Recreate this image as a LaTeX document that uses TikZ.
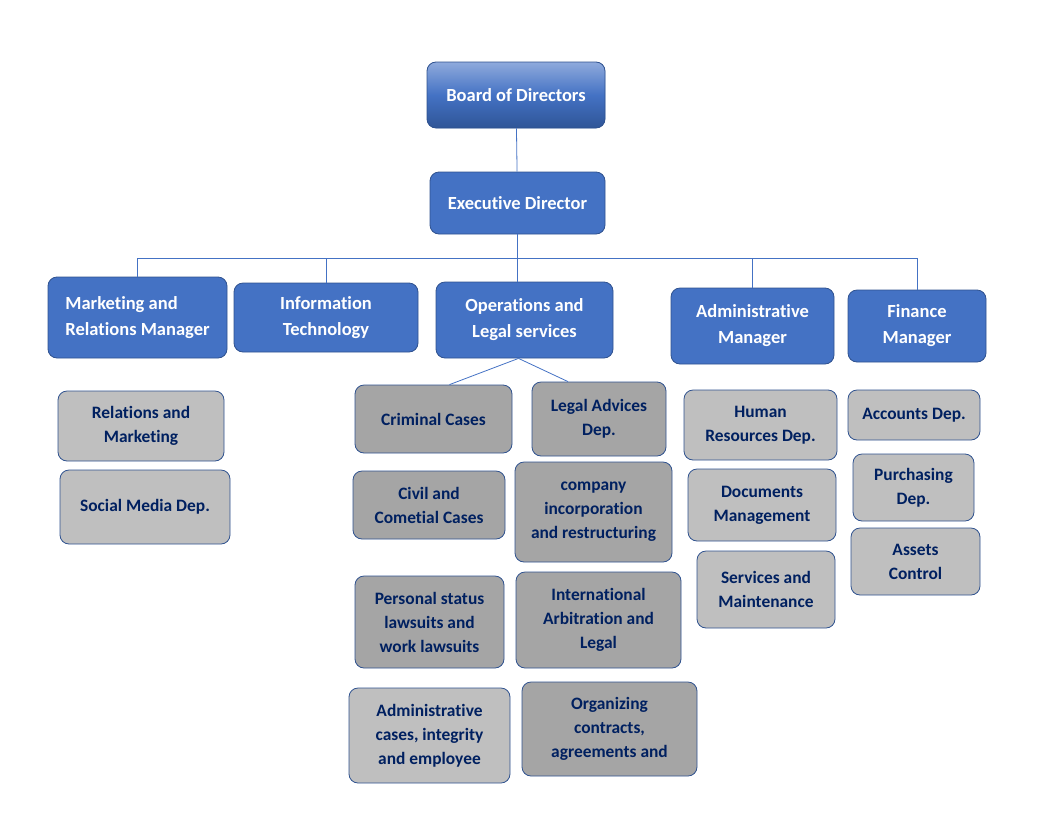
\documentclass[tikz,border=0pt]{standalone}
\usepackage{fontspec}
\setmainfont{Carlito}[Ligatures=NoCommon]
\usetikzlibrary{positioning}

\begin{document}
\begin{tikzpicture}[x=1pt, y=-1pt,
    box/.style={rectangle, rounded corners=9pt, draw=borderColour, line width=0.8pt,
        align=center, inner sep=0pt, font=\fontsize{17.4}{24}\selectfont\bfseries},
    blueBox/.style={box, fill=blueColour, text=white, font=\fontsize{18.5}{26}\selectfont\bfseries},
    darkBox/.style={box, fill=darkGrey, text=navyText},
    lightBox/.style={box, fill=lightGrey, text=navyText},
    link/.style={draw=blueColour, line width=0.8pt}]
    % Define colours
    \definecolor{borderColour}{HTML}{2F528F}
    \definecolor{blueColour}{HTML}{4472C4}
    \definecolor{boardTop}{HTML}{8FAADC}
    \definecolor{boardBottom}{HTML}{2F5597}
    \definecolor{darkGrey}{HTML}{A5A5A5}
    \definecolor{lightGrey}{HTML}{BFBFBF}
    \definecolor{navyText}{HTML}{002060}

    % Fix page size
    \useasboundingbox (0,0) rectangle (1053,812);

    % Top of the chart
    \node[blueBox, top color=boardTop, bottom color=boardBottom, middle color=blueColour,
        minimum width=178, minimum height=66] (board) at (516,95) {Board of Directors};
    \node[blueBox, minimum width=175, minimum height=62] (exec) at (517.5,203) {Executive Director};

    % Managers
    \node[blueBox, align=left, minimum width=179, minimum height=81] (mkt) at (137.5,317.5) {Marketing and\\Relations Manager};
    \node[blueBox, minimum width=184, minimum height=69] (it) at (326,317.5) {Information\\Technology};
    \node[blueBox, minimum width=177, minimum height=76] (ops) at (524.5,320) {Operations and\\Legal services};
    \node[blueBox, minimum width=163, minimum height=76] (adm) at (752.5,326) {Administrative\\Manager};
    \node[blueBox, minimum width=138, minimum height=72] (fin) at (917,326) {Finance\\Manager};

    % Marketing departments
    \node[lightBox, minimum width=166, minimum height=70] (rel) at (141,426) {Relations and\\Marketing};
    \node[lightBox, minimum width=170, minimum height=74] (soc) at (145,507) {Social Media Dep.};

    % Legal departments
    \node[darkBox, minimum width=157, minimum height=68] (crim) at (433.5,419) {Criminal Cases};
    \node[darkBox, minimum width=152, minimum height=68] (civil) at (429,505) {Civil and\\Cometial Cases};
    \node[darkBox, minimum width=149, minimum height=92] (pers) at (429.5,622) {Personal status\\lawsuits and\\work lawsuits};
    \node[lightBox, minimum width=161, minimum height=95] (admc) at (429.5,735.5) {Administrative\\cases, integrity\\and employee};
    \node[darkBox, minimum width=134, minimum height=74] (legal) at (599,419) {Legal Advices\\Dep.};
    \node[darkBox, minimum width=157, minimum height=100] (comp) at (593.5,512) {company\\incorporation\\and restructuring};
    \node[darkBox, minimum width=165, minimum height=96] (intl) at (598.5,620) {International\\Arbitration and\\Legal};
    \node[darkBox, minimum width=175, minimum height=94] (org) at (609.5,729) {Organizing\\contracts,\\agreements and};

    % Administrative departments
    \node[lightBox, minimum width=153, minimum height=70] (hr) at (760.5,425) {Human\\Resources Dep.};
    \node[lightBox, minimum width=148, minimum height=72] (doc) at (762,505) {Documents\\Management};
    \node[lightBox, minimum width=138, minimum height=77] (serv) at (766,589.5) {Services and\\Maintenance};

    % Finance departments
    \node[lightBox, minimum width=132, minimum height=50] (acc) at (914,415) {Accounts Dep.};
    \node[lightBox, minimum width=121, minimum height=67] (pur) at (913.5,487.5) {Purchasing\\Dep.};
    \node[lightBox, minimum width=129, minimum height=67] (ast) at (915.5,561.5) {Assets\\Control};

    % Connectors
    \draw[link] (board) -- (exec);
    \draw[link] (exec.south) -- ++(0,24) coordinate (bus);
    \foreach \n in {mkt,it,adm,fin}
        \draw[link] (bus) -| (\n.north);
    \draw[link] (bus) -- (bus |- ops.north);
    \draw[link] ([xshift=-6pt]ops.south) -- ([xshift=16pt]crim.north);
    \draw[link] ([xshift=-6pt]ops.south) -- ([xshift=-31pt]legal.north);

\end{tikzpicture}
\end{document}
